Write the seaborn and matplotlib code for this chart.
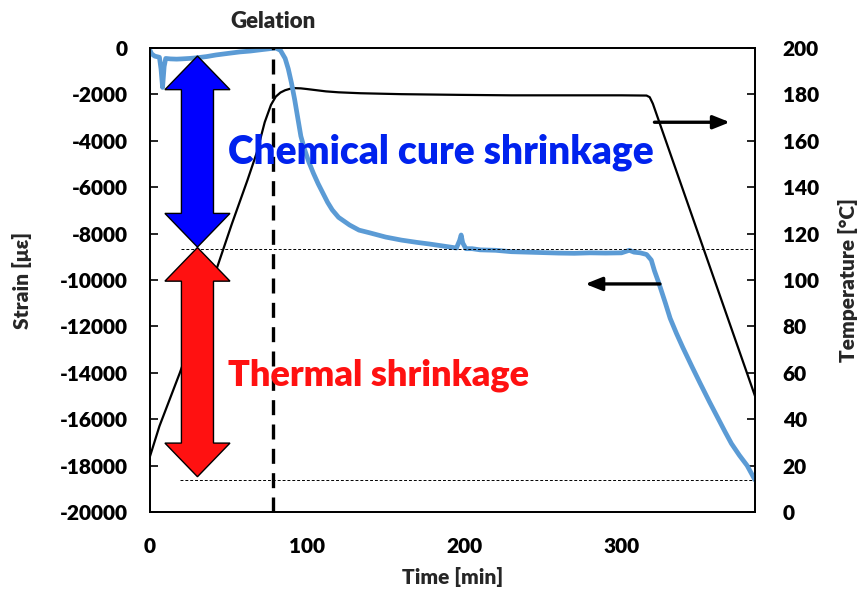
import numpy as np
import pandas as pd
import matplotlib
matplotlib.use("Agg")
import matplotlib.pyplot as plt
import seaborn as sns

# ---------------- data ----------------
strain_time = [0, 1, 3, 6, 7, 8, 9, 10, 13, 17, 20, 25, 30, 36, 42, 50, 57, 64, 70, 75, 80,
               83, 86, 88, 90, 92, 94, 96, 98.5, 101, 104, 107, 110, 113, 116, 120, 127, 133,
               140, 150, 160, 170, 178, 185, 191, 195, 197, 198, 199, 201, 205, 210, 220, 230,
               240, 250, 260, 270, 280, 290, 300, 305, 308, 312, 316, 319, 321, 324, 328, 331,
               335, 339, 345, 350, 356, 361, 366, 370, 375, 380, 385]
strain_values = [-100, -250, -350, -400, -900, -1700, -800, -450, -470, -480, -470, -450, -420,
                 -370, -300, -230, -170, -130, -80, -40, 0,
                 -100, -450, -900, -1500, -2200, -3000, -3800, -4400, -4900, -5400, -5850, -6250,
                 -6650, -6980, -7300, -7630, -7850, -7970, -8150, -8280, -8380, -8450, -8520,
                 -8580, -8620, -8300, -8060, -8400, -8650, -8650, -8700, -8720, -8780, -8800,
                 -8820, -8840, -8850, -8830, -8840, -8830, -8720, -8800, -8830, -8900, -9140,
                 -9600, -10170, -11000, -11650, -12300, -12900, -13750, -14440, -15250, -15900,
                 -16550, -17050, -17550, -18000, -18620]

temp_time = [0, 6, 19, 30, 42, 52, 62, 68, 73, 77, 80, 83, 86, 89, 92, 96, 100, 106, 112, 120,
             134, 160, 197, 230, 270, 300, 316, 318, 320, 385]
temp_values = [24, 37, 60, 81, 104, 124, 143, 155, 168, 175.5, 179, 180.8, 181.8, 182.4, 182.7,
               182.6, 182.3, 181.8, 181.3, 180.9, 180.5, 180.1, 179.8, 179.6, 179.6, 179.6, 179.5,
               178.8, 176, 50]

gelation_time = 78
chem_level = -8650      # strain after chemical cure shrinkage
final_level = -18600    # final strain

x_ticks = [0, 100, 200, 300]
strain_ticks = list(range(-20000, 1, 2000))
temp_ticks = list(range(0, 201, 20))

strain_df = pd.DataFrame({"Time": strain_time, "Strain": strain_values})
temp_df = pd.DataFrame({"Time": temp_time, "Temp": temp_values})

# ---------------- style ----------------
sns.set_style("white")
plt.rcParams["font.family"] = ["Lato", "DejaVu Sans"]
plt.rcParams["font.weight"] = "heavy"
plt.rcParams["axes.unicode_minus"] = False

fig = plt.figure(figsize=(8.63, 6.03), dpi=100)
ax = fig.add_axes([150 / 863, 1 - 512 / 603, 605 / 863, 464 / 603])
ax2 = ax.twinx()

sns.lineplot(data=temp_df, x="Time", y="Temp", ax=ax2, color="black", lw=1.6,
             estimator=None, sort=False)
sns.lineplot(data=strain_df, x="Time", y="Strain", ax=ax, color="#5B9BD5", lw=3.4,
             estimator=None, sort=False)

ax.set_zorder(ax2.get_zorder() + 1)
ax.patch.set_visible(False)

ax.set_xlim(0, 385)
ax.set_ylim(-20000, 0)
ax2.set_ylim(0, 200)
ax.set_xticks(x_ticks)
ax.set_yticks(strain_ticks)
ax2.set_yticks(temp_ticks)

fs = 15
for a in (ax, ax2):
    for s in a.spines.values():
        s.set_color("black")
        s.set_linewidth(1.3)
ax.tick_params(axis="both", direction="in", length=6, width=1.2, labelsize=fs, pad=16,
               colors="black")
ax.tick_params(axis="x", pad=18)
ax2.tick_params(axis="y", direction="in", length=6, width=1.2, labelsize=fs, pad=20,
                colors="black")
for lab in ax.get_xticklabels() + ax.get_yticklabels() + ax2.get_yticklabels():
    lab.set_fontweight("heavy")

ax.set_xlabel("Time [min]", fontsize=fs, fontweight="heavy", labelpad=8)
ax.set_ylabel("Strain [με]", fontsize=fs, fontweight="heavy", labelpad=20)
ax2.set_ylabel("Temperature [°C]", fontsize=fs, fontweight="heavy", labelpad=14)

# gelation line
ax.axvline(gelation_time, color="black", lw=2.4, dashes=(4.5, 2.8), zorder=3)
ax.text(gelation_time, 1.058, "Gelation", transform=ax.get_xaxis_transform(),
        ha="center", va="center", fontsize=fs + 1, fontweight="heavy")

# thin dashed reference levels
ax.plot([20, 385], [chem_level, chem_level], color="black", lw=0.7, ls=(0, (3, 2)), zorder=3)
ax.plot([19, 385], [final_level, final_level], color="black", lw=0.7, ls=(0, (3, 2)), zorder=3)


def double_arrow(a, cx, top, bot, hw, hh, hl, color):
    xs = [cx, cx + hh, cx + hw, cx + hw, cx + hh, cx, cx - hh, cx - hw, cx - hw, cx - hh]
    ys = [top, top - hl, top - hl, bot + hl, bot + hl, bot, bot + hl, bot + hl, top - hl, top - hl]
    a.fill(xs, ys, facecolor=color, edgecolor="black", lw=1.0, zorder=6)


double_arrow(ax, 30.2, -345, -8580, 10.2, 20.7, 1450, "#0000FF")
double_arrow(ax, 30.2, -8600, -18480, 10.2, 20.7, 1450, "#FF1111")

ax.text(49.5, -4480, "Chemical cure shrinkage", color="#0022EE", fontsize=28,
        fontweight="heavy", ha="left", va="center", zorder=7)
ax.text(49.5, -14090, "Thermal shrinkage", color="#FF1111", fontsize=26,
        fontweight="heavy", ha="left", va="center", zorder=7)

# axis pointer arrows
ax2.annotate("", xy=(369, 168), xytext=(321, 168),
             arrowprops=dict(arrowstyle="-|>,head_length=1.0,head_width=0.4",
                             color="black", lw=2.4, shrinkA=0, shrinkB=0))
ax.annotate("", xy=(277, -10170), xytext=(324.5, -10170),
            arrowprops=dict(arrowstyle="-|>,head_length=1.0,head_width=0.4",
                            color="black", lw=2.4, shrinkA=0, shrinkB=0), zorder=5)

fig.savefig("out.png", dpi=100)
